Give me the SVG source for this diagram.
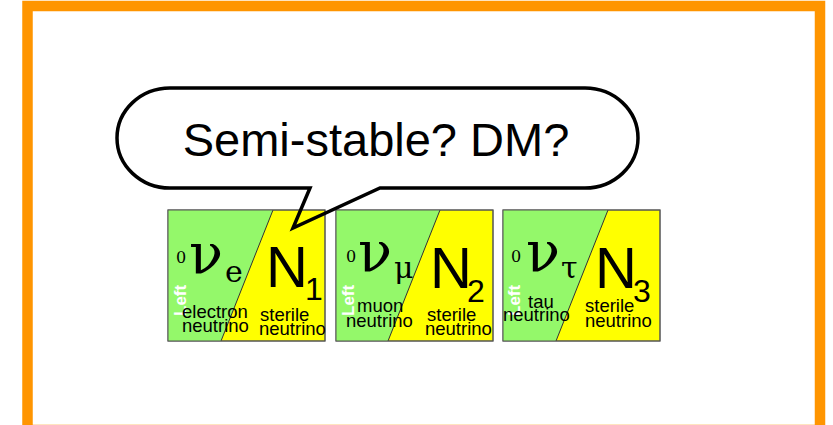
<svg xmlns="http://www.w3.org/2000/svg" width="833" height="425" viewBox="0 0 833 425">
<defs>
<path id="bubble-shape" d="M 170,88 H 585 A 53,50 0 0 1 585,188 H 380 L 293,228 L 310,188 H 170 A 53,50 0 0 1 170,88 Z"/>
</defs>
<style>
.tile rect{stroke:#555;stroke-width:1}
.g{fill:#94f86a}
.y{fill:#ffff00}
.div{stroke:#333;stroke-width:1}
.sans{font-family:"Liberation Sans",Arial,sans-serif;fill:#000}
.serif{font-family:"DejaVu Serif","Liberation Serif",serif;fill:#000}
.lbl{font-size:18.5px}
.left{font-family:"Liberation Sans",Arial,sans-serif;font-size:17px;font-weight:bold;fill:#fff}
.nu{font-size:56px}
.sub{font-size:30px}
.zero{font-size:16px}
.N{font-size:58px}
.Nsub{font-size:32px}
</style>
<rect x="0" y="0" width="833" height="425" fill="#fff"/>
<rect x="27.5" y="6" width="792.5" height="424" fill="none" stroke="#ff9500" stroke-width="10.5"/>

<g id="bubble-fill">
<use href="#bubble-shape" fill="#fff"/>
</g>

<g id="tile-e" class="tile">
<rect x="168" y="210" width="157" height="131" class="y"/>
<polygon points="168,210 273,210 221,341 168,341" class="g"/>
<line x1="273" y1="210" x2="221" y2="341" class="div"/>
<rect x="168" y="210" width="157" height="131" fill="none"/>
<text class="serif zero" x="176" y="263">0</text>
<text class="serif nu" x="189" y="273">ν</text>
<text class="serif sub" x="225" y="282">e</text>
<text class="sans N" x="266" y="287">N</text>
<text class="sans Nsub" x="305" y="300">1</text>
<text class="left" transform="translate(186,316) rotate(-90)">Left</text>
<text class="sans lbl" x="182" y="318">electron</text>
<text class="sans lbl" x="182" y="332">neutrino</text>
<text class="sans lbl" x="260" y="321">sterile</text>
<text class="sans lbl" x="259" y="335">neutrino</text>
</g>

<g id="tile-mu" class="tile">
<rect x="336" y="210" width="157" height="131" class="y"/>
<polygon points="336,210 440,210 388,341 336,341" class="g"/>
<line x1="440" y1="210" x2="388" y2="341" class="div"/>
<rect x="336" y="210" width="157" height="131" fill="none"/>
<text class="serif zero" x="346" y="262">0</text>
<text class="serif nu" x="358" y="271">ν</text>
<text class="serif sub" x="394" y="278">μ</text>
<text class="sans N" x="430" y="288">N</text>
<text class="sans Nsub" x="467" y="302">2</text>
<text class="left" transform="translate(354,316) rotate(-90)">Left</text>
<text class="sans lbl" x="357" y="312">muon</text>
<text class="sans lbl" x="346" y="327">neutrino</text>
<text class="sans lbl" x="427" y="321">sterile</text>
<text class="sans lbl" x="425" y="335">neutrino</text>
</g>

<g id="tile-tau" class="tile">
<rect x="503" y="210" width="157" height="131" class="y"/>
<polygon points="503,210 608,210 556,341 503,341" class="g"/>
<line x1="608" y1="210" x2="556" y2="341" class="div"/>
<rect x="503" y="210" width="157" height="131" fill="none"/>
<text class="serif zero" x="511" y="262">0</text>
<text class="serif nu" x="526" y="271">ν</text>
<text class="serif sub" x="561" y="278">τ</text>
<text class="sans N" x="595" y="288">N</text>
<text class="sans Nsub" x="633" y="302">3</text>
<text class="left" transform="translate(520,316) rotate(-90)">Left</text>
<text class="sans lbl" x="528" y="308">tau</text>
<text class="sans lbl" x="503" y="321">neutrino</text>
<text class="sans lbl" x="585" y="312">sterile</text>
<text class="sans lbl" x="585" y="327">neutrino</text>
</g>

<g id="bubble">
<use href="#bubble-shape" fill="none" stroke="#000" stroke-width="3.5" stroke-linejoin="miter"/>
<text class="sans" x="376" y="156" font-size="47" text-anchor="middle">Semi-stable? DM?</text>
</g>
</svg>
